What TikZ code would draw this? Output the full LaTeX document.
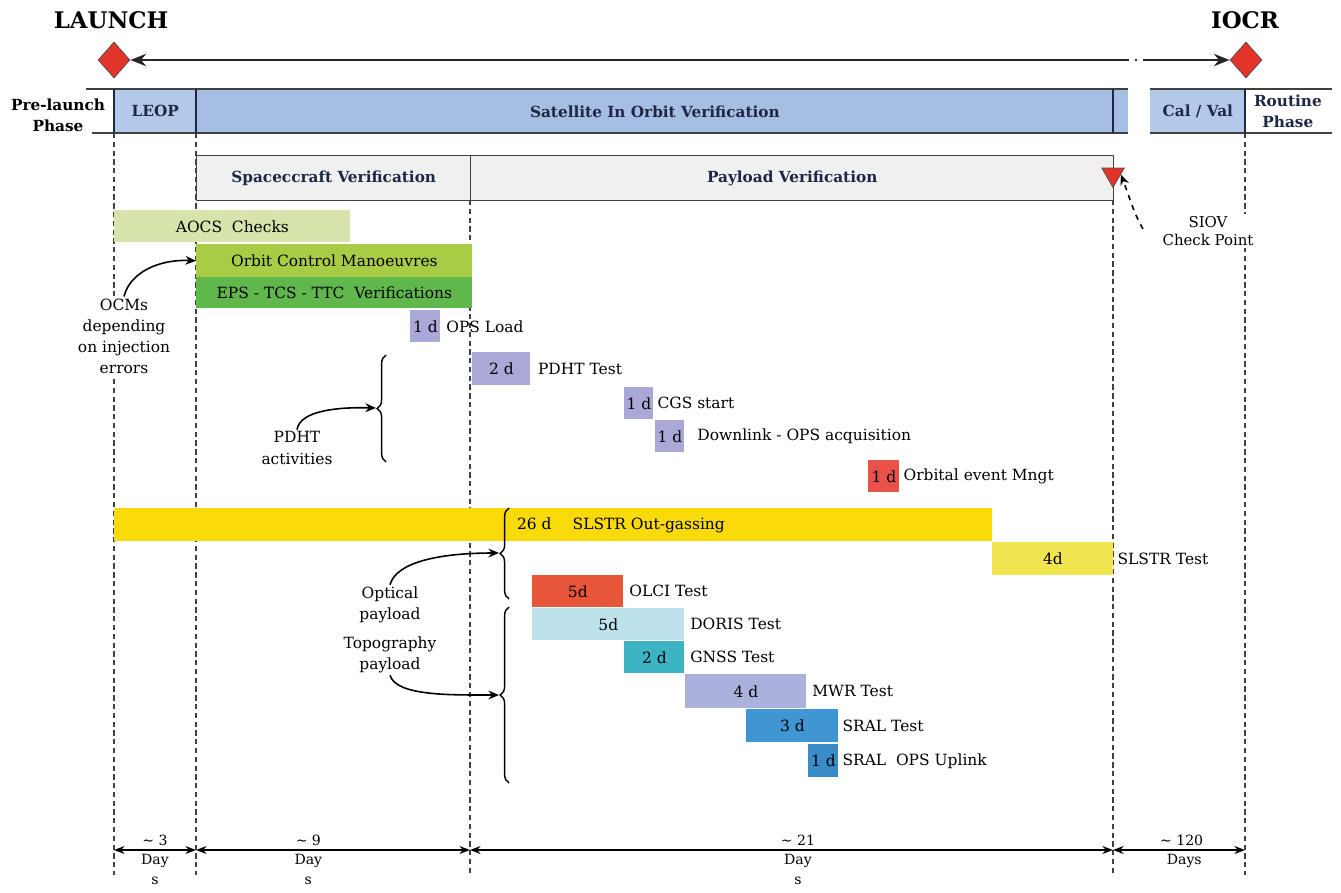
\documentclass[tikz,border=0pt]{standalone}
\usepackage{fontspec}
\setmainfont{DejaVu Serif}
\usepackage{xcolor}
\usetikzlibrary{arrows.meta,positioning,shapes.geometric,decorations.pathreplacing}

\definecolor{bandblue}{RGB}{166,190,228}
\definecolor{leopblue}{RGB}{180,201,234}
\definecolor{mred}{RGB}{226,52,40}
\definecolor{aocsgreen}{RGB}{214,227,170}
\definecolor{ocmgreen}{RGB}{168,204,70}
\definecolor{epsgreen}{RGB}{96,184,76}
\definecolor{lav}{RGB}{170,168,214}
\definecolor{orbred}{RGB}{232,82,74}
\definecolor{gold}{RGB}{250,218,10}
\definecolor{paleyellow}{RGB}{242,230,80}
\definecolor{olcired}{RGB}{232,86,58}
\definecolor{dorisblue}{RGB}{190,226,236}
\definecolor{gnssteal}{RGB}{60,180,196}
\definecolor{mwrlav}{RGB}{170,178,220}
\definecolor{sralblue}{RGB}{64,150,210}
\definecolor{sralops}{RGB}{58,140,200}
\definecolor{navy}{RGB}{30,40,70}

\newcommand{\pxu}{0.02cm}
\newcommand{\tasksize}{\fontsize{8.8}{12}\selectfont}
\newcommand{\headsize}{\fontsize{8.7}{12}\selectfont\bfseries}
\newcommand{\dimsize}{\fontsize{8}{11.3}\selectfont}

\begin{document}
\begin{tikzpicture}[x=0.02cm, y=-0.02cm,
  cell/.style={fill=#1, anchor=north west, inner sep=0pt,
    minimum height=44*\pxu, font=\headsize, text=navy},
  stage/.style={draw=black!75, line width=0.8pt, fill=black!6,
    anchor=north west, inner sep=0pt, minimum height=45*\pxu,
    font=\headsize, text=navy},
  bar/.style={fill=#1, anchor=north west, inner sep=0pt,
    font=\tasksize},
  lbl/.style={font=\tasksize, inner sep=1pt},
  note/.style={font=\tasksize, align=center, fill=white, inner sep=1pt},
  guide/.style={densely dashed, black!75, line width=0.6pt},
  rule/.style={black!75, line width=1pt},
  divider/.style={navy, line width=0.8pt},
  tline/.style={black!85, line width=1.1pt},
  carr/.style={-{Stealth[length=6pt,width=5pt]}, line width=0.9pt},
  dim/.style={{Stealth[length=6pt,width=4.5pt]}-{Stealth[length=6pt,width=4.5pt]},
    line width=1.1pt},
  dimlbl/.style={font=\dimsize, inner sep=1pt, align=center},
  brc/.style={decorate, decoration={brace, amplitude=5pt}, line width=0.8pt},
  mile/.style={diamond, draw=black!70, fill=mred, inner sep=0pt,
    minimum width=32*\pxu, minimum height=36*\pxu}]

\useasboundingbox (0,0) rectangle (1341,892);

% dashed guides behind everything
\foreach \gx/\gy in {114/133, 196/133, 470/200, 1113/200, 1245/133}
  \draw[guide] (\gx,\gy) -- (\gx,875);

% milestones and timeline
\node[font=\fontsize{13}{16}\selectfont\bfseries] (launchtxt) at (111,20) {LAUNCH};
\node[font=\fontsize{13}{16}\selectfont\bfseries] (iocrtxt) at (1245,20) {IOCR};
\node[mile] (launch) at (114,60) {};
\node[mile] (iocr) at (1246,60) {};
\coordinate (brkl) at (1129,60);
\coordinate (brkr) at (1143,60);
\draw[tline, {Stealth[length=9pt,width=7pt]}-] (launch.east) -- (brkl);
\draw[tline, -{Stealth[length=9pt,width=7pt]}] (brkr) -- (iocr.west);
\fill[black!70] (1136,60) circle (1.6);

% phase band
\fill[bandblue] (1113,89) rectangle (1128,133);
\node[cell=leopblue, minimum width=82*\pxu] (leop) at (114,89) {LEOP};
\node[cell=bandblue, minimum width=917*\pxu] (satiov) at (196,89)
  {Satellite In Orbit Verification};
\node[cell=leopblue, minimum width=95*\pxu] (calval) at (1150,89) {Cal / Val};
\node[cell=white, minimum width=85*\pxu, align=center] (routine) at (1245,89)
  {Routine\\Phase};
\node[font=\headsize, align=center] (prelaunch) at (58,115) {Pre-launch\\Phase};
\draw[rule] (86,89) -- (1128,89);
\draw[rule] (92,133) -- (1128,133);
\draw[rule] (1150,89) -- (1332,89);
\draw[rule] (1150,133) -- (1332,133);
\foreach \dx in {114,196,1113,1245}
  \draw[divider] (\dx,89) -- (\dx,133);

% verification stages
\node[stage, minimum width=274*\pxu] (scver) at (196,155) {Spaceccraft Verification};
\node[stage, minimum width=643*\pxu] (plver) at (470,155) {Payload Verification};
\node[regular polygon, regular polygon sides=3, shape border rotate=180,
  draw=black!70, fill=mred, inner sep=0pt, minimum size=26*\pxu]
  (siov) at (1113,174.5) {};
\node[note, font=\fontsize{8.5}{10.5}\selectfont] (siovtxt) at (1208,231)
  {SIOV\\Check Point};
\coordinate (siovtail) at (1143,229);
\draw[carr, dashed] (siovtail) .. controls (1134,214) and (1129,196) .. (siov.east);

% platform activities
\node[bar=aocsgreen, minimum width=236*\pxu, minimum height=32*\pxu] (aocs)
  at (114,210) {AOCS\ \ Checks};
\node[bar=ocmgreen, minimum width=276*\pxu, minimum height=33*\pxu] (ocm)
  at (196,244) {Orbit Control Manoeuvres};
\node[bar=epsgreen, minimum width=276*\pxu, minimum height=31*\pxu] (eps)
  at (196,277) {EPS - TCS - TTC\ \ Verifications};
\node[bar=lav, minimum width=30*\pxu, minimum height=32*\pxu] (opsbox)
  at (410,310) {1 d};
\node[lbl, right=2pt of opsbox] (opslbl) {OPS Load};

% PDHT activities
\node[bar=lav, minimum width=58*\pxu, minimum height=33*\pxu] (pdhtbox)
  at (472,352) {2 d};
\node[lbl, right=3pt of pdhtbox] (pdhtlbl) {PDHT Test};
\node[bar=lav, minimum width=29*\pxu, minimum height=32*\pxu] (cgsbox)
  at (624,387) {1 d};
\node[lbl, right=1pt of cgsbox] (cgslbl) {CGS start};
\node[bar=lav, minimum width=29*\pxu, minimum height=32*\pxu] (dlbox)
  at (655,420) {1 d};
\node[lbl, right=6pt of dlbox] (dllbl) {Downlink - OPS acquisition};
\node[bar=orbred, minimum width=31*\pxu, minimum height=32*\pxu] (orbbox)
  at (868,460) {1 d};
\node[lbl, right=1pt of orbbox] (orblbl) {Orbital event Mngt};

% optical payload
\node[bar=gold, minimum width=878*\pxu, minimum height=33*\pxu] (outgas)
  at (114,508) {};
\node[lbl, anchor=west] (outgaslbl) at (515,525)
  {26 d\hspace{12pt}SLSTR Out-gassing};
\node[bar=paleyellow, minimum width=121*\pxu, minimum height=33*\pxu] (slstrbox)
  at (992,542) {4d};
\node[lbl, right=1pt of slstrbox] (slstrlbl) {SLSTR Test};
\node[bar=olcired, minimum width=91*\pxu, minimum height=32*\pxu] (olcibox)
  at (532,575) {5d};
\node[lbl, right=2pt of olcibox] (olcilbl) {OLCI Test};

% topography payload
\node[bar=dorisblue, minimum width=152*\pxu, minimum height=32*\pxu] (dorisbox)
  at (532,608) {5d};
\node[lbl, right=2pt of dorisbox] (dorislbl) {DORIS Test};
\node[bar=gnssteal, minimum width=60*\pxu, minimum height=32*\pxu] (gnssbox)
  at (624,641) {2 d};
\node[lbl, right=2pt of gnssbox] (gnsslbl) {GNSS Test};
\node[bar=mwrlav, minimum width=121*\pxu, minimum height=34*\pxu] (mwrbox)
  at (685,674) {4 d};
\node[lbl, right=2pt of mwrbox] (mwrlbl) {MWR Test};
\node[bar=sralblue, minimum width=92*\pxu, minimum height=33*\pxu] (sralbox)
  at (746,709) {3 d};
\node[lbl, right=1pt of sralbox] (srallbl) {SRAL Test};
\node[bar=sralops, minimum width=30*\pxu, minimum height=33*\pxu] (uplbox)
  at (808,744) {1 d};
\node[lbl, right=1pt of uplbox] (upllbl) {SRAL\ \ OPS Uplink};

% side notes with braces
\node[note] (ocmtxt) at (124,336) {OCMs\\depending\\on injection\\errors};
\draw[carr] (ocmtxt.north) .. controls (130,272) and (160,259) .. (ocm.west);

\draw[brc] (386,462) -- (386,355);
\coordinate (pdhttip) at (376,408);
\node[note] (pdhttxt) at (297,448) {PDHT\\activities};
\draw[carr] (pdhttxt.north) .. controls (300,410) and (340,407) .. (pdhttip);

\draw[brc] (509,599) -- (509,508);
\coordinate (opttip) at (499,553);
\draw[brc] (509,783) -- (509,607);
\coordinate (topotip) at (499,695);
\node[note] (opttxt) at (390,605) {Optical\\payload};
\node[note] (topotxt) at (390,655) {Topography\\payload};
\draw[carr] (opttxt.north) .. controls (396,562) and (440,553) .. (opttip);
\draw[carr] (topotxt.south) .. controls (396,696) and (450,695) .. (topotip);

% durations
\coordinate (d0) at (114,850);
\coordinate (d1) at (196,850);
\coordinate (d2) at (470,850);
\coordinate (d3) at (1113,850);
\coordinate (d4) at (1245,850);
\draw[dim] (d0) -- (d1)
  node[dimlbl, midway, above=1pt] (n3) {\textasciitilde\ 3}
  node[dimlbl, midway, below=1pt] (u3) {Day\\s};
\draw[dim] (d1) -- (d2)
  node[dimlbl, pos=0.41, above=1pt] (n9) {\textasciitilde\ 9}
  node[dimlbl, pos=0.41, below=1pt] (u9) {Day\\s};
\draw[dim] (d2) -- (d3)
  node[dimlbl, pos=0.51, above=1pt] (n21) {\textasciitilde\ 21}
  node[dimlbl, pos=0.51, below=1pt] (u21) {Day\\s};
\draw[dim] (d3) -- (d4)
  node[dimlbl, pos=0.52, above=1pt] (n120) {\textasciitilde\ 120}
  node[dimlbl, pos=0.54, below=1pt] (u120) {Days};

\end{tikzpicture}
\end{document}
